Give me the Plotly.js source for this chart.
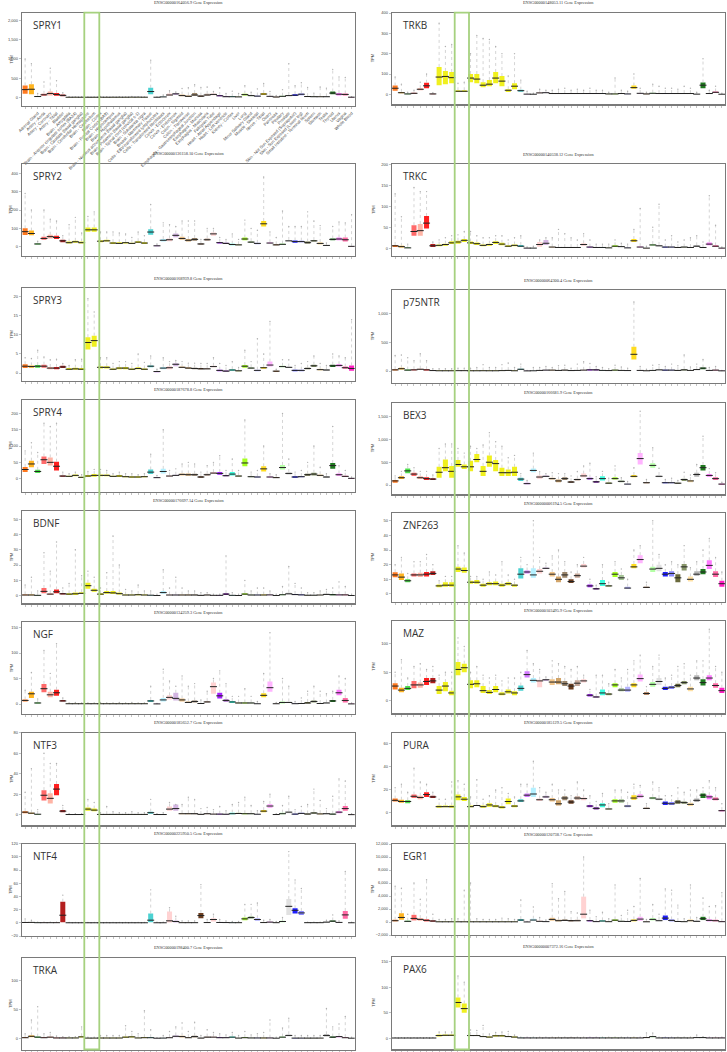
<!DOCTYPE html>
<html>
<head>
<meta charset="utf-8">
<script src="https://cdn.plot.ly/plotly-3.0.1.min.js"></script>
<style>html,body{margin:0;padding:0;background:#fff;}#chart{width:727px;height:1052px;}</style>
</head>
<body>
<div id="chart"></div>
<script>
// ---------- categories ----------
const TISSUES = ["Adipose - Subcutaneous","Adipose - Visceral (Omentum)","Adrenal Gland","Artery - Aorta","Artery - Coronary","Artery - Tibial","Bladder","Brain - Amygdala","Brain - Anterior cingulate cortex (BA24)","Brain - Caudate (basal ganglia)","Brain - Cerebellar Hemisphere","Brain - Cerebellum","Brain - Cortex","Brain - Frontal Cortex (BA9)","Brain - Hippocampus","Brain - Hypothalamus","Brain - Nucleus accumbens (basal ganglia)","Brain - Putamen (basal ganglia)","Brain - Spinal cord (cervical c-1)","Brain - Substantia nigra","Breast - Mammary Tissue","Cells - EBV-transformed lymphocytes","Cells - Transformed fibroblasts","Cervix - Ectocervix","Cervix - Endocervix","Colon - Sigmoid","Colon - Transverse","Esophagus - Gastroesophageal Junction","Esophagus - Mucosa","Esophagus - Muscularis","Fallopian Tube","Heart - Atrial Appendage","Heart - Left Ventricle","Kidney - Cortex","Liver","Lung","Minor Salivary Gland","Muscle - Skeletal","Nerve - Tibial","Ovary","Pancreas","Pituitary","Prostate","Skin - Not Sun Exposed (Suprapubic)","Skin - Sun Exposed (Lower leg)","Small Intestine - Terminal Ileum","Spleen","Stomach","Testis","Thyroid","Uterus","Vagina","Whole Blood"];
const COLORS = ["#FF6600","#FFAA00","#33DD33","#FF5555","#FFAA99","#FF0000","#AA0000","#EEEE00","#EEEE00","#EEEE00","#EEEE00","#EEEE00","#EEEE00","#EEEE00","#EEEE00","#EEEE00","#EEEE00","#EEEE00","#EEEE00","#EEEE00","#33CCCC","#CC66FF","#AAEEFF","#FFCCCC","#CCAADD","#EEBB77","#CC9955","#8B7355","#552200","#BB9988","#FFCCCC","#9900FF","#660099","#22FFDD","#AABB66","#99FF00","#99BB88","#AAAAFF","#FFD700","#FFAAFF","#995522","#AAFF99","#DDDDDD","#0000FF","#7777FF","#555522","#778855","#FFDD99","#AAAAAA","#006600","#FF66FF","#FF5599","#FF00BB"];

// ---------- values (TPM): q1, median, q3, highest point ----------
const SPRY1_Q1 = [90,80,5,40,50,40,30, 1,1,1,1,1,1,1,1,1,1,1,1,1, 80,1,5,40,60,30,10,40,15,40,55,25,8,8,5,50,30,15,60,15,4,15,30,35,55,10,8,8,8,80,50,50,1];
const SPRY1_MED = [200,210,20,65,100,75,50, 2,3,2,2,2,3,2,3,3,3,4,4,3, 150,2,10,60,90,45,25,60,30,60,75,40,15,15,10,70,45,30,85,25,8,25,45,55,80,20,15,15,15,110,80,75,3];
const SPRY1_Q3 = [310,340,35,90,150,110,70, 5,5,5,5,5,5,5,5,5,5,6,6,5, 250,4,20,100,110,70,50,110,45,90,100,60,25,25,20,95,60,45,110,35,12,40,60,80,100,30,25,30,25,150,110,100,6];
const SPRY1_HI = [1000,880,100,400,760,430,120, 15,12,15,10,10,20,15,12,15,12,25,15,12, 970,10,60,170,140,230,250,330,260,270,150,250,100,160,100,300,130,220,360,150,50,200,880,300,380,260,110,270,240,730,530,520,15];

const SPRY2_Q1 = [64,62,12,38,45,42,25, 18,22,18,82,82,25,28,15,15,18,15,20,15, 65,3,28,30,52,38,28,32,12,32,60,18,15,8,8,35,20,14,110,17,8,10,28,22,24,18,28,12,5,35,35,28,1];
const SPRY2_MED = [82,72,15,45,55,50,32, 22,27,22,92,92,30,32,20,18,22,18,25,20, 80,5,35,38,62,45,35,40,15,38,70,22,18,12,10,42,25,18,125,20,10,13,32,28,28,22,32,18,7,40,42,38,2];
const SPRY2_Q3 = [100,88,18,55,65,60,38, 28,32,28,105,105,35,38,25,24,26,22,30,25, 95,7,42,45,72,55,42,48,18,45,78,26,21,16,13,50,30,21,140,24,13,17,37,34,33,28,36,25,9,45,50,50,3];
const SPRY2_HI = [290,200,30,200,150,140,60, 120,160,75,165,190,80,80,80,75,70,50,80,60, 230,15,130,120,110,140,140,140,40,100,100,50,40,70,40,145,100,90,380,80,50,195,110,110,110,190,140,115,20,110,135,130,175];

const SPRY3_Q1 = [1.3,1.4,1.4,1.4,1.0,1.0,1.3, 0.8,0.9,0.8,6.2,6.9,1.2,1.2,0.8,1.0,1.0,0.8,1.0,0.8, 1.5,0.2,1.0,1.0,1.8,1.3,1.1,1.0,1.0,1.0,1.5,0.5,0.4,0.6,0.4,1.4,1.1,0.5,1.1,1.7,0.3,1.5,1.3,0.5,0.5,1.0,1.6,0.7,0.6,1.6,1.7,1.1,0.6];
const SPRY3_MED = [1.8,1.7,1.8,1.8,1.3,1.3,1.6, 1.0,1.1,1.0,8.0,8.5,1.5,1.5,1.0,1.3,1.3,1.0,1.2,1.0, 1.8,0.4,1.3,1.4,2.3,1.5,1.3,1.2,1.1,1.1,1.7,0.7,0.5,0.8,0.6,1.8,1.3,0.7,1.4,2.1,0.5,1.7,1.5,0.7,0.7,1.2,1.9,0.9,0.8,1.9,2.0,1.4,1.2];
const SPRY3_Q3 = [2.3,2.0,2.1,2.2,1.6,1.6,1.9, 1.3,1.4,1.3,9.4,9.8,1.8,1.8,1.2,1.5,1.6,1.2,1.5,1.2, 2.0,0.5,1.6,1.8,2.6,1.7,1.5,1.4,1.3,1.3,1.9,0.9,0.7,1.0,0.7,2.1,1.5,0.9,1.6,3.0,0.6,1.9,1.7,0.9,0.9,1.4,2.2,1.1,1.0,2.2,2.3,1.7,2.0];
const SPRY3_HI = [4,3.8,6,4.2,3.5,3.6,2.5, 2,3.5,3.6,19.5,16,4,4,2.5,3,3,2.5,5,2.8, 4.5,1,4,3,3.3,3,2.6,2.6,2.5,2.5,4,2.5,2,3,1.5,6,3,9,5,13.5,1,3.5,3.5,2,2.5,3,4.5,2.5,2,5,4.5,4,14];

const SPRY4_Q1 = [20,35,17,45,40,25,6, 5,7,2,5,6,7,7,5,5,4,3,3,4, 14,2,16,6,8,10,9,9,3,9,14,12,7,10,6,38,4,3,22,3,2,28,12,3,4,9,10,7,3,30,9,5,0.5];
const SPRY4_MED = [28,45,22,58,50,38,8, 7,10,4,8,10,10,10,7,8,6,5,5,6, 20,3,22,8,10,13,12,12,5,12,17,16,9,14,8,48,6,5,30,5,3,34,16,5,6,12,14,10,5,40,12,7,1];
const SPRY4_Q3 = [36,55,27,68,65,52,10, 9,13,6,11,14,13,13,9,11,8,7,7,8, 28,4,30,10,12,16,16,15,7,15,20,20,11,20,10,62,8,7,38,7,5,42,20,7,8,15,18,13,7,48,16,9,2];
const SPRY4_HI = [85,110,80,170,160,170,20, 15,20,12,22,28,28,25,15,20,15,15,12,15, 75,10,150,25,30,45,50,45,20,40,50,70,25,60,25,180,20,25,100,15,12,200,60,20,25,50,100,35,15,160,40,25,5];

const BDNF_Q1 = [0.2,0.2,0.1,1.5,0.5,1.5,0.8, 0.5,0.5,1.0,4.5,2.5,0.5,1.2,1.0,0.8,0.2,0.2,0.3,0.2, 0.1,0.05,1.2,0.2,0.2,0.2,0.2,0.2,0.1,0.2,0.1,0.1,0.5,0.1,0.05,0.6,0.2,0.2,0.2,0.2,0.05,0.3,0.6,0.4,0.3,0.1,0.1,0.2,0.5,0.3,0.2,0.3,0.05];
const BDNF_MED = [0.4,0.4,0.2,2.8,1.0,2.5,1.2, 1.0,1.2,1.5,6.5,3.5,1.0,2.0,1.8,1.3,0.4,0.4,0.6,0.4, 0.3,0.1,2.0,0.4,0.4,0.4,0.4,0.4,0.2,0.4,0.2,0.2,1.0,0.2,0.1,1.0,0.4,0.4,0.4,0.5,0.1,0.6,1.2,0.7,0.5,0.3,0.3,0.4,0.8,0.6,0.5,0.5,0.1];
const BDNF_Q3 = [0.8,0.8,0.4,5.0,1.5,4.0,1.8, 1.5,2.0,2.2,8.5,4.5,1.5,3.0,3.0,2.0,0.7,0.7,1.0,0.7, 0.5,0.2,3.0,0.7,0.7,0.7,0.7,0.7,0.4,0.7,0.4,0.4,1.5,0.4,0.2,1.6,0.7,0.7,0.7,0.8,0.2,1.0,2.0,1.1,0.9,0.5,0.5,0.6,1.2,1.0,0.8,0.8,0.2];
const BDNF_HI = [7,12,3,28,16,35,5, 8,30,13,16,12,5,15,39,20,4,3,7,3, 3,1,17,5,12,5,3,3,2,2,1,1,26,2,1,10,3,5,5,3,1,6,19,8,5,2,2,3,4,5,9,6,1];

const NGF_Q1 = [5,12,1,23,13,16,5, 0.3,0.3,0.3,0.3,0.3,0.3,0.3,0.3,0.3,0.3,0.3,0.3,0.3, 4,0.1,5,9,7,5,2,3,0.5,3,20,11,5,2,1,1,1,0.3,13,24,0.3,1,2,0.3,0.5,1,3,0.5,1.5,4,17,3,0.1];
const NGF_MED = [7,20,2,30,18,22,6, 0.5,0.5,0.5,0.5,0.5,0.5,0.5,0.5,0.5,0.5,0.5,0.5,0.5, 6,0.2,8,13,11,8,3,5,1,4,34,16,7,4,2,2,2,0.5,17,32,0.5,3,3,0.6,1,2,5,1,2,6,22,7,0.2];
const NGF_Q3 = [9,24,3,39,24,28,8, 0.8,0.8,0.8,0.8,0.8,0.8,0.8,0.8,0.8,0.8,0.8,0.8,0.8, 8,0.3,12,17,22,11,5,7,2,6,42,22,9,6,3,3,3,1,21,44,1,5,5,1,2,4,7,2,3,8,28,12,0.4];
const NGF_HI = [27,62,10,105,60,118,12, 2,3,2,2,2,3,2,2,3,2,3,2,2, 35,1,68,45,35,55,35,40,8,25,50,65,40,15,15,30,15,5,60,140,3,50,35,5,12,25,35,25,20,25,55,50,2];

const NTF3_Q1 = [1.5,1,0.2,14,11,19,2.5, 0.1,0.1,0.1,4,3.5,0.1,0.1,0.1,0.1,0.1,0.1,0.1,0.1, 1,0.1,0.1,4,4,0.5,0.5,0.5,0.2,0.5,0.3,0.3,0.3,0.5,0.6,0.5,0.5,0.2,2.5,6.5,0.1,0.5,1.5,0.3,0.8,0.3,1,0.3,0.5,0.3,1.5,4,0.05];
const NTF3_MED = [2.5,1.5,0.5,19,16,25,3.5, 0.2,0.2,0.2,5.5,4.5,0.3,0.3,0.3,0.3,0.3,0.3,0.3,0.3, 2,0.2,0.2,5.5,6,1,1,1,0.4,1,0.6,0.6,0.5,1,1.2,1,1,0.5,3.5,8.5,0.2,1,2.5,0.6,1.3,0.7,1.7,0.8,1,0.6,2.5,6,0.1];
const NTF3_Q3 = [3.5,2,0.8,24,21,30,4.5, 0.3,0.3,0.3,7,6,0.5,0.5,0.5,0.5,0.5,0.5,0.5,0.5, 3,0.3,0.3,8,10,1.5,1.5,1.5,0.6,1.5,1,1,0.8,2,2,1.5,1.5,0.8,4.5,10.5,0.3,2,3.5,1,2,1.2,2.5,1.5,1.5,1,3.5,8.5,0.2];
const NTF3_HI = [22,45,5,60,50,50,9, 1,1,1,15,12,2,8,3,2,2,3,2,2, 15,1,2,12,10,10,17,15,6,7,5,8,4,10,12,17,9,4,13,20,1,9,18,5,8,10,25,14,6,18,35,33,1];

const NTF4_Q1 = [0.2,0.3,0.1,0.1,0.1,0.1,1, 0.05,0.05,0.05,0.05,0.05,0.05,0.05,0.05,0.05,0.05,0.05,0.05,0.05, 1,0.05,0.05,0.5,0.5,0.1,0.1,0.1,7,0.2,2,0.2,0.2,0.1,0.1,4,6,3,0.2,0.5,0.1,1,12,14,12,0.1,0.1,0.1,0.5,1.5,0.3,6,0.05];
const NTF4_MED = [0.5,0.6,0.2,0.2,0.2,0.2,11.5, 0.1,0.1,0.1,0.1,0.1,0.1,0.1,0.1,0.1,0.1,0.1,0.1,0.1, 4,0.1,0.1,3,2,0.2,0.2,0.2,11,0.4,5,0.5,0.4,0.2,0.2,6,8,5,0.4,1,0.2,2,25,19,15,0.2,0.2,0.2,1,2.5,0.6,12,0.1];
const NTF4_Q3 = [1,1,0.4,0.4,0.4,0.4,32, 0.2,0.2,0.2,0.2,0.2,0.2,0.2,0.2,0.2,0.2,0.2,0.2,0.2, 14,0.2,0.2,17,3.5,0.4,0.4,0.4,15,0.7,7,1,0.6,0.4,0.4,8,10,7,0.8,2,0.4,3,36,22,18,0.4,0.4,0.4,1.5,3.5,1,18,0.2];
const NTF4_HI = [6,4,1,1,1,1,42, 0.5,0.5,0.5,0.5,0.5,0.5,0.5,0.5,0.5,0.5,0.5,0.5,0.5, 50,1,1,23,10,3,3,3,58,5,13,5,3,2,2,28,28,30,4,5,2,8,108,65,52,1,1,1,4,12,3,78,1];

const TRKA_Q1 = [0.5,2,1,0.5,1,0.3,0.3, 0.3,0.3,1.5,0.2,0.2,0.2,0.2,0.2,0.2,1,1.5,0.3,0.5, 0.5,0.1,0.2,0.5,2,1.5,0.5,1.5,0.2,1,1,0.5,0.5,1,0.2,0.5,0.3,0.3,0.3,0.3,0.1,1,3,0.2,0.2,0.2,0.2,0.2,3,1,2,0.5,0.1];
const TRKA_MED = [1,3.5,2,1,2,0.6,0.6, 0.6,0.6,2.5,0.4,0.4,0.5,0.5,0.5,0.5,2,2.5,0.6,1, 1,0.2,0.4,1,3.5,3,1,3,0.4,2,2,1,1,2,0.4,1,0.6,0.6,0.6,0.6,0.2,2,5,0.4,0.4,0.4,0.4,0.4,5,2,3,1,0.2];
const TRKA_Q3 = [2,5,3,2,3,1,1, 1,1,3.5,0.6,0.6,1,1,1,1,3,3.5,1,2, 2,0.3,0.7,2,5,4.5,2,4.5,0.7,3,3,2,1.5,3,0.7,2,1,1,1,1,0.3,3,7,0.7,0.7,0.7,0.7,0.7,7,3,4,2,0.3];
const TRKA_HI = [8,32,55,8,10,4,3, 3,3,20,2,2,5,5,5,5,22,12,8,48, 15,1,5,12,20,27,12,28,5,15,10,8,6,10,5,12,6,8,10,32,2,18,35,5,5,5,5,5,52,20,25,38,2];

const TRKB_Q1 = [18,5,1,3,20,30,1, 45,50,55,12,12,60,55,35,40,55,40,12,25, 13,0.5,0.3,5,6,2,2,2,2,2,2,2,2,2,1,1,2,1,27,3,1,3,2,2,2,2,2,2,0.5,30,2,7,0.3];
const TRKB_MED = [30,8,2,5,25,42,2, 85,88,82,15,15,80,75,45,50,80,65,20,40, 18,1,0.5,7,8,4,4,4,4,4,4,4,4,4,2,2,4,2,33,5,2,5,4,4,4,4,4,4,1,45,4,10,0.5];
const TRKB_Q3 = [43,12,3,8,30,57,3, 135,115,110,20,20,100,100,60,70,110,90,25,55, 23,2,1,10,10,6,6,6,6,6,6,6,6,6,3,3,6,3,43,7,3,8,6,6,6,6,6,6,2,58,6,14,1];
const TRKB_HI = [85,50,10,20,60,100,8, 350,235,245,55,60,200,290,275,270,235,200,90,200, 70,15,5,25,20,20,25,30,20,25,20,30,20,20,10,80,20,15,100,30,10,50,40,30,30,25,40,30,10,175,20,40,5];

const TRKC_Q1 = [3,2,0.5,30,30,47,3, 5,6,10,11,15,10,8,5,6,10,7,3,5, 3,0.3,0.3,4,8,2,1,1,1,1,6,2,1,1,0.5,3,3,0.5,15,2,0.3,6,4,2,2,1,2,1,3,1,7,3,0.2];
const TRKC_MED = [6,4,1,40,42,60,6, 7,9,13,15,19,13,11,7,9,14,10,5,7, 5,0.5,0.5,9,12,3,2,2,2,2,9,3,2,2,1,5,4,1,18,3,0.5,8,6,3,3,2,3,2,5,2,10,5,0.5];
const TRKC_Q3 = [8,6,2,55,58,77,10, 9,11,17,18,22,16,14,9,11,17,13,7,9, 8,1,1,15,20,4,3,3,3,3,12,4,3,3,2,7,5,2,22,5,1,10,8,4,4,3,4,3,7,3,14,7,0.8];
const TRKC_HI = [130,75,10,145,135,135,15, 20,25,30,32,40,40,30,25,25,30,30,20,25, 30,3,5,20,25,25,45,35,25,20,35,20,10,10,10,20,12,10,45,95,5,50,105,20,30,15,20,25,30,15,125,55,3];

const P75NTR_Q1 = [10,25,10,10,20,10,5, 2,2,2,3,3,2,2,2,2,2,3,4,2, 20,1,2,5,8,8,5,8,5,5,8,10,10,5,5,8,5,5,200,5,2,5,10,8,8,5,10,5,20,30,5,8,2];
const P75NTR_MED = [20,40,15,20,30,20,8, 4,4,4,6,6,4,4,5,4,4,7,10,4, 30,2,4,10,15,15,10,15,8,10,15,20,20,10,8,15,10,8,290,10,4,10,20,15,15,10,20,10,25,50,10,15,3];
const P75NTR_Q3 = [30,55,25,30,40,30,12, 7,7,7,9,9,7,7,8,7,7,12,15,7, 40,3,6,15,20,20,15,20,12,15,20,30,30,15,12,20,15,12,420,15,6,15,30,20,20,15,30,15,35,60,15,20,5];
const P75NTR_HI = [270,280,230,180,300,180,40, 40,40,40,50,50,50,60,110,60,60,110,140,60, 120,10,60,60,80,60,90,100,50,120,160,130,80,60,40,100,70,50,1200,80,30,100,110,80,120,90,280,70,120,200,60,80,10];

const BEX3_Q1 = [50,130,260,200,130,110,110, 160,300,160,400,350,300,500,200,400,300,200,200,200, 90,15,280,140,180,120,60,110,50,100,170,120,50,100,20,120,60,10,170,450,40,380,170,40,40,30,90,60,180,320,180,110,10];
const BEX3_MED = [90,160,310,240,160,140,130, 280,380,300,450,400,400,560,300,500,470,270,270,280, 130,30,320,175,190,140,90,140,65,120,200,140,70,140,40,140,80,20,190,580,50,430,190,50,50,40,120,90,230,380,210,140,20];
const BEX3_Q3 = [110,190,360,270,190,170,150, 400,560,420,550,450,530,680,420,650,550,380,340,400, 160,50,360,210,210,160,120,170,80,140,250,160,90,190,60,170,100,30,220,700,60,480,220,60,60,50,140,110,270,440,240,170,30];
const BEX3_HI = [200,300,450,380,300,300,220, 800,900,900,800,700,850,800,880,1150,950,850,600,650, 250,100,700,290,250,270,250,250,200,300,420,480,180,300,150,420,160,80,380,1620,120,820,370,120,150,100,280,220,450,1070,360,270,60];

const ZNF263_Q1 = [11.4,9.5,8,12,11.5,12,13, 4.5,5,5,15,14.5,7,7,5,6,6,5,6,5, 10.5,14,11,14,17,12,8,11,7.5,11,18,4.5,3,5.5,5,11.5,9.5,3.5,17.5,21,4,15,15.5,12,12,8,16,8.5,12.5,13.5,17,11.5,5];
const ZNF263_MED = [13,11.5,9,13,13,13.5,14, 5.5,6,6,17,16,8,8,6,7,7,6,7,6, 13.5,15,13,15.5,17.5,13.5,10,13,8.5,12.5,19,5.5,3.5,7,5.5,13.5,11,4,18.5,23.5,4.5,17,17.5,13.5,14,11,18.5,10,13.5,15,19.5,13.5,7];
const ZNF263_Q3 = [14.8,14,10,14,14.5,15,15.5, 6.5,8,8,18.5,18,9,9.5,7,8,8.5,7,8,6.5, 17.5,16,17.5,17,18,15,12,15,10,14,20.5,6.5,4,9.5,6,15,13,5,20.5,26.5,5,18.5,20,15,15.5,13.5,20.5,12,15.5,17,23,15.5,9];
const ZNF263_HI = [20,25,14,22,22,27,20, 9,12,12,33,28,12,12,10,15,13,22,13,10, 25,20,50,25,21,26,30,22,15,20,25,10,6,20,8,22,17,10,30,33,8,50,27,20,22,20,33,18,22,30,38,25,15];

const MAZ_Q1 = [20,15,19,22,23,28,31, 12,17,10,45,50,22,24,14,12,15,10,13,10, 18,41,32,24,35,28,29,26,20,26,32,8,6,10,10,24,17,16,24,34,11,25,28,19,21,24,29,17,36,27,36,23,14];
const MAZ_MED = [26,19,22,28,28,34,35, 19,26,14,55,58,29,30,18,15,20,12,16,14, 22,46,36,35,37,33,33,30,26,31,35,10,7,14,12,28,19,19,28,39,13,29,34,22,24,27,32,21,40,32,40,27,18];
const MAZ_Q3 = [31,23,26,35,32,40,40, 26,33,18,68,65,36,36,26,19,26,15,20,17, 27,52,40,37,38,38,40,35,30,36,38,12,8,20,14,31,22,25,31,46,15,33,40,25,26,30,35,25,45,38,45,31,23];
const MAZ_HI = [50,72,40,60,65,55,60, 45,50,50,110,95,50,60,45,40,45,35,40,40, 50,88,65,55,42,70,65,60,55,60,45,20,45,45,30,55,40,55,70,80,25,60,80,40,45,60,65,45,70,70,125,60,50];

const PURA_Q1 = [10,9,8.5,13,12,14,13, 4.5,5,4.5,11,10.5,5,6,4.5,5.5,5,4,7.5,5, 9.5,14,14,10.5,13,10,6.5,11,8,11.5,11,5,3,5,3,9,9,5,11.5,13,3.5,12,11,7,7,8,8,6,9.5,13,12,11,1.5];
const PURA_MED = [11,10,10,14.5,13.5,16,14, 5.5,5.5,5.5,14,12,5.5,6.5,5.5,7,6,5,10,6, 10.5,15.5,16.5,11.5,14,11.5,8,13,9.5,13,12.5,6,4,7,3.5,10.5,10.5,6,13,14.5,4,13,12,8.5,8,9.5,9,7.5,11,15.5,14,12,2];
const PURA_Q3 = [12.5,11.5,11,16,15,18,15, 6.5,6.5,6.5,16,14,6.5,7,6.5,8.5,7,6,12.5,7, 12,17,22,12.5,15,13,11,14.5,11,14.5,13.5,7,5,8.5,4,12,12,7,15.5,16.5,4.5,14,13,10,9.5,11,10,9,12.5,17,15.5,13.5,2.5];
const PURA_HI = [22,25,18,39,27,25,18, 12,12,27,28,25,14,29,12,15,20,22,17,14, 25,25,45,22,18,25,20,20,15,27,20,15,10,17,8,20,20,18,25,24,8,27,22,15,15,22,18,20,20,22,28,22,8];

const EGR1_Q1 = [100,350,50,250,200,100,50, 10,10,10,10,10,10,10,10,10,10,10,10,10, 150,5,200,50,30,200,100,150,100,100,560,100,30,80,20,150,50,30,100,200,10,250,100,300,100,30,20,100,50,300,100,100,20];
const EGR1_MED = [200,700,100,550,400,250,150, 30,30,30,30,30,30,30,30,30,30,30,30,30, 300,10,300,100,60,400,200,250,200,200,1200,200,60,150,50,280,100,80,250,450,30,400,200,600,250,80,50,200,100,500,250,200,50];
const EGR1_Q3 = [350,1350,200,1100,600,400,250, 60,60,60,60,60,60,60,60,60,60,60,60,60, 450,30,500,200,100,650,350,400,300,350,3900,300,100,250,100,400,200,150,400,800,60,600,350,1000,400,150,100,400,200,800,400,350,100];
const EGR1_HI = [5500,5200,1200,6000,3500,6500,1200, 400,400,500,500,4900,6000,500,400,400,400,600,500,400, 3400,100,2300,700,300,5900,3600,4700,1600,1400,10000,1800,800,1500,500,5700,1000,1800,2400,6700,400,2700,1200,5100,4900,2600,500,5700,700,3700,2400,2500,4500];

const PAX6_Q1 = [0.1,0.1,0.1,0.1,0.1,0.1,0.1, 3,4,4,60,50,4,4,2,1,3,3,2,1, 0.1,0.1,0.1,0.1,0.1,0.1,0.1,0.1,0.1,0.1,0.1,0.1,0.1,0.1,0.1,0.1,0.1,0.1,0.1,0.1,0.5,1.5,0.1,0.1,0.1,0.1,0.1,0.1,0.5,0.5,0.1,0.1,0.1];
const PAX6_MED = [0.2,0.2,0.2,0.2,0.2,0.2,0.2, 5,5.5,5.5,70,58,5,5,3,2,4.5,4.5,3,2, 0.3,0.3,0.3,0.3,0.3,0.3,0.3,0.3,0.3,0.3,0.3,0.3,0.3,0.3,0.3,0.3,0.3,0.3,0.3,0.3,1,3,0.3,0.3,0.3,0.3,0.3,0.3,1,1,0.3,0.3,0.3];
const PAX6_Q3 = [0.4,0.4,0.4,0.4,0.4,0.4,0.4, 7,7,7,80,68,6,6,4,3,6,6,4,3, 0.5,0.5,0.5,0.5,0.5,0.5,0.5,0.5,0.5,0.5,0.5,0.5,0.5,0.5,0.5,0.5,0.5,0.5,0.5,0.5,2,4,0.5,0.5,0.5,0.5,0.5,0.5,1.5,1.5,0.5,0.5,0.5];
const PAX6_HI = [1,1,1,1,1,1,1, 12,12,12,122,110,16,15,25,8,11,12,13,6, 2,2,2,2,2,2,2,2,2,2,2,2,2,2,2,2,2,2,2,2,10,10,2,2,2,2,2,2,6,3,2,2,2];

// ---------- panel setup (layout in pixels) ----------
const PANELS = [
  {gene:'SPRY1', ens:'ENSG00000164056.9', d:[SPRY1_Q1,SPRY1_MED,SPRY1_Q3,SPRY1_HI], col:0, top:13, bot:106, ttl:3, range:[-227,2200], dtick:500, labels:true},
  {gene:'SPRY2', ens:'ENSG00000136158.10', d:[SPRY2_Q1,SPRY2_MED,SPRY2_Q3,SPRY2_HI], col:0, top:164, bot:255.7, ttl:154, range:[-49,451], dtick:100},
  {gene:'SPRY3', ens:'ENSG00000168939.8', d:[SPRY3_Q1,SPRY3_MED,SPRY3_Q3,SPRY3_HI], col:0, top:288.3, bot:380.7, ttl:278, range:[-2,22.2], dtick:5},
  {gene:'SPRY4', ens:'ENSG00000187678.8', d:[SPRY4_Q1,SPRY4_MED,SPRY4_Q3,SPRY4_HI], col:0, top:400, bot:491.7, ttl:389, range:[-40,241], dtick:50},
  {gene:'BDNF', ens:'ENSG00000176697.14', d:[BDNF_Q1,BDNF_MED,BDNF_Q3,BDNF_HI], col:0, top:511, bot:603.3, ttl:500.7, range:[-5,55.3], dtick:10},
  {gene:'NGF', ens:'ENSG00000134259.3', d:[NGF_Q1,NGF_MED,NGF_Q3,NGF_HI], col:0, top:622.3, bot:714, ttl:612, range:[-19.6,160.2], dtick:50},
  {gene:'NTF3', ens:'ENSG00000185652.7', d:[NTF3_Q1,NTF3_MED,NTF3_Q3,NTF3_HI], col:0, top:732.7, bot:825.3, ttl:722.3, range:[-10.3,80], dtick:20},
  {gene:'NTF4', ens:'ENSG00000225950.5', d:[NTF4_Q1,NTF4_MED,NTF4_Q3,NTF4_HI], col:0, top:843.7, bot:936, ttl:833.3, range:[-20,120], dtick:20},
  {gene:'TRKA', ens:'ENSG00000198400.7', d:[TRKA_Q1,TRKA_MED,TRKA_Q3,TRKA_HI], col:0, top:957.7, bot:1050, ttl:947.7, range:[-20.4,140.6], dtick:50},
  {gene:'TRKB', ens:'ENSG00000148053.11', d:[TRKB_Q1,TRKB_MED,TRKB_Q3,TRKB_HI], col:1, top:13, bot:104.3, ttl:3, range:[-49,400], dtick:100},
  {gene:'TRKC', ens:'ENSG00000140538.12', d:[TRKC_Q1,TRKC_MED,TRKC_Q3,TRKC_HI], col:1, top:164.3, bot:256, ttl:154.3, range:[-18.3,200], dtick:50},
  {gene:'p75NTR', ens:'ENSG00000064300.4', d:[P75NTR_Q1,P75NTR_MED,P75NTR_Q3,P75NTR_HI], col:1, top:290.3, bot:382.7, ttl:280, range:[-203,1401], dtick:500},
  {gene:'BEX3', ens:'ENSG00000166681.9', d:[BEX3_Q1,BEX3_MED,BEX3_Q3,BEX3_HI], col:1, top:402.7, bot:494.3, ttl:392.3, range:[-204,1807], dtick:500},
  {gene:'ZNF263', ens:'ENSG00000006194.5', d:[ZNF263_Q1,ZNF263_MED,ZNF263_Q3,ZNF263_HI], col:1, top:513.3, bot:601.7, ttl:503.3, range:[-5.3,55.1], dtick:10},
  {gene:'MAZ', ens:'ENSG00000103495.9', d:[MAZ_Q1,MAZ_MED,MAZ_Q3,MAZ_HI], col:1, top:620.7, bot:713.3, ttl:610.7, range:[-21.5,140], dtick:50},
  {gene:'PURA', ens:'ENSG00000185129.5', d:[PURA_Q1,PURA_MED,PURA_Q3,PURA_HI], col:1, top:732.7, bot:825.3, ttl:722.3, range:[-10.7,69.8], dtick:20},
  {gene:'EGR1', ens:'ENSG00000120738.7', d:[EGR1_Q1,EGR1_MED,EGR1_Q3,EGR1_HI], col:1, top:844, bot:935, ttl:834, range:[-2000,12000], dtick:2000},
  {gene:'PAX6', ens:'ENSG00000007372.16', d:[PAX6_Q1,PAX6_MED,PAX6_Q3,PAX6_HI], col:1, top:956.7, bot:1049.3, ttl:946.7, range:[-22,160], dtick:50}
];

const W = 727, H = 1052;
const COLX = [[22, 354.7], [392, 725]];
const TPMX = [11, 372.7];
const IDX = TISSUES.map((t, i) => i);

const traces = [];
const layout = {
  width: W, height: H, margin: {l:0, r:0, t:0, b:0},
  paper_bgcolor: '#ffffff', plot_bgcolor: '#ffffff',
  showlegend: false, bargap: 0.2,
  font: {family: 'Liberation Sans, Arial, sans-serif', color: '#333'},
  annotations: [], shapes: []
};

PANELS.forEach((p, k) => {
  const n = k + 1;
  const xs = n === 1 ? '' : String(n);
  const xa = 'x' + xs, ya = 'y' + xs;
  const [q1, med, q3, hi] = p.d;
  const cx = COLX[p.col];

  // outlier spread above the boxes (dotted, like scattered outlier points)
  const wx = [], wy = [];
  IDX.forEach(i => { wx.push(i, i, null); wy.push(q3[i], hi[i], null); });
  traces.push({type:'scatter', mode:'lines', x:wx, y:wy, xaxis:xa, yaxis:ya,
    line:{color:'rgba(175,175,175,0.75)', width:0.7, dash:'dot'}, hoverinfo:'skip'});
  traces.push({type:'scatter', mode:'markers', x:IDX, y:hi, xaxis:xa, yaxis:ya,
    marker:{color:'rgba(165,165,165,0.85)', size:1.4}, hoverinfo:'skip'});
  // boxes (q1..q3)
  traces.push({type:'bar', x:IDX, y:IDX.map(i => q3[i] - q1[i]), base:q1, xaxis:xa, yaxis:ya,
    width:0.8, marker:{color:COLORS, opacity:0.88, line:{width:0}}, hoverinfo:'skip'});
  // medians
  traces.push({type:'scatter', mode:'markers', x:IDX, y:med, xaxis:xa, yaxis:ya,
    marker:{symbol:'line-ew', size:5, color:'#222', line:{color:'#222', width:1}}, hoverinfo:'skip'});

  layout['xaxis' + xs] = {
    domain:[cx[0]/W, cx[1]/W], anchor:ya, range:[-0.5, 52.5],
    showline:true, mirror:true, linecolor:'#7a7a7a', linewidth:1.2,
    ticks:'outside', ticklen:2, tickwidth:0.5, tickcolor:'#888',
    tickmode:'array', tickvals:IDX, ticktext:TISSUES,
    showticklabels: !!p.labels, tickangle:-45,
    tickfont:{size:4.2, color:'#444', family:'Liberation Sans, Arial, sans-serif'},
    showgrid:false, zeroline:false, fixedrange:true
  };
  layout['yaxis' + xs] = {
    domain:[1 - p.bot/H, 1 - p.top/H], anchor:xa, range:p.range,
    tick0:0, dtick:p.dtick, tickformat:',',
    showline:true, mirror:true, linecolor:'#7a7a7a', linewidth:1.2,
    ticks:'outside', ticklen:2, tickwidth:0.5, tickcolor:'#888',
    tickfont:{size:4, color:'#444'},
    showgrid:false, zeroline:false, fixedrange:true
  };

  layout.annotations.push({xref:'paper', yref:'paper', x:(cx[0] + 9)/W, y:1 - (p.top + 12)/H,
    xanchor:'left', yanchor:'middle', showarrow:false, text:p.gene,
    font:{family:'Open Sans, sans-serif', size:10, color:'#333'}});
  layout.annotations.push({xref:'paper', yref:'paper', x:((cx[0] + cx[1])/2)/W, y:1 - p.ttl/H,
    xanchor:'center', yanchor:'middle', showarrow:false, text:p.ens + ' Gene Expression',
    font:{family:'Liberation Serif, serif', size:4.3, color:'#333'}});
  layout.annotations.push({xref:'paper', yref:'paper', x:TPMX[p.col]/W, y:1 - ((p.top + p.bot)/2)/H,
    xanchor:'center', yanchor:'middle', showarrow:false, text:'TPM', textangle:-90,
    font:{size:4, color:'#444'}});
});

// highlight boxes around the cerebellar tissues
[[84.3, 99.3], [454.7, 469]].forEach(b => {
  layout.shapes.push({type:'rect', xref:'paper', yref:'paper', layer:'above',
    x0:b[0]/W, x1:b[1]/W, y0:1 - 1049.5/H, y1:1 - 12.7/H,
    line:{color:'#a6d17f', width:1.8}, fillcolor:'rgba(0,0,0,0)'});
});

Plotly.newPlot('chart', traces, layout, {staticPlot:true, displayModeBar:false});
</script>
</body>
</html>
